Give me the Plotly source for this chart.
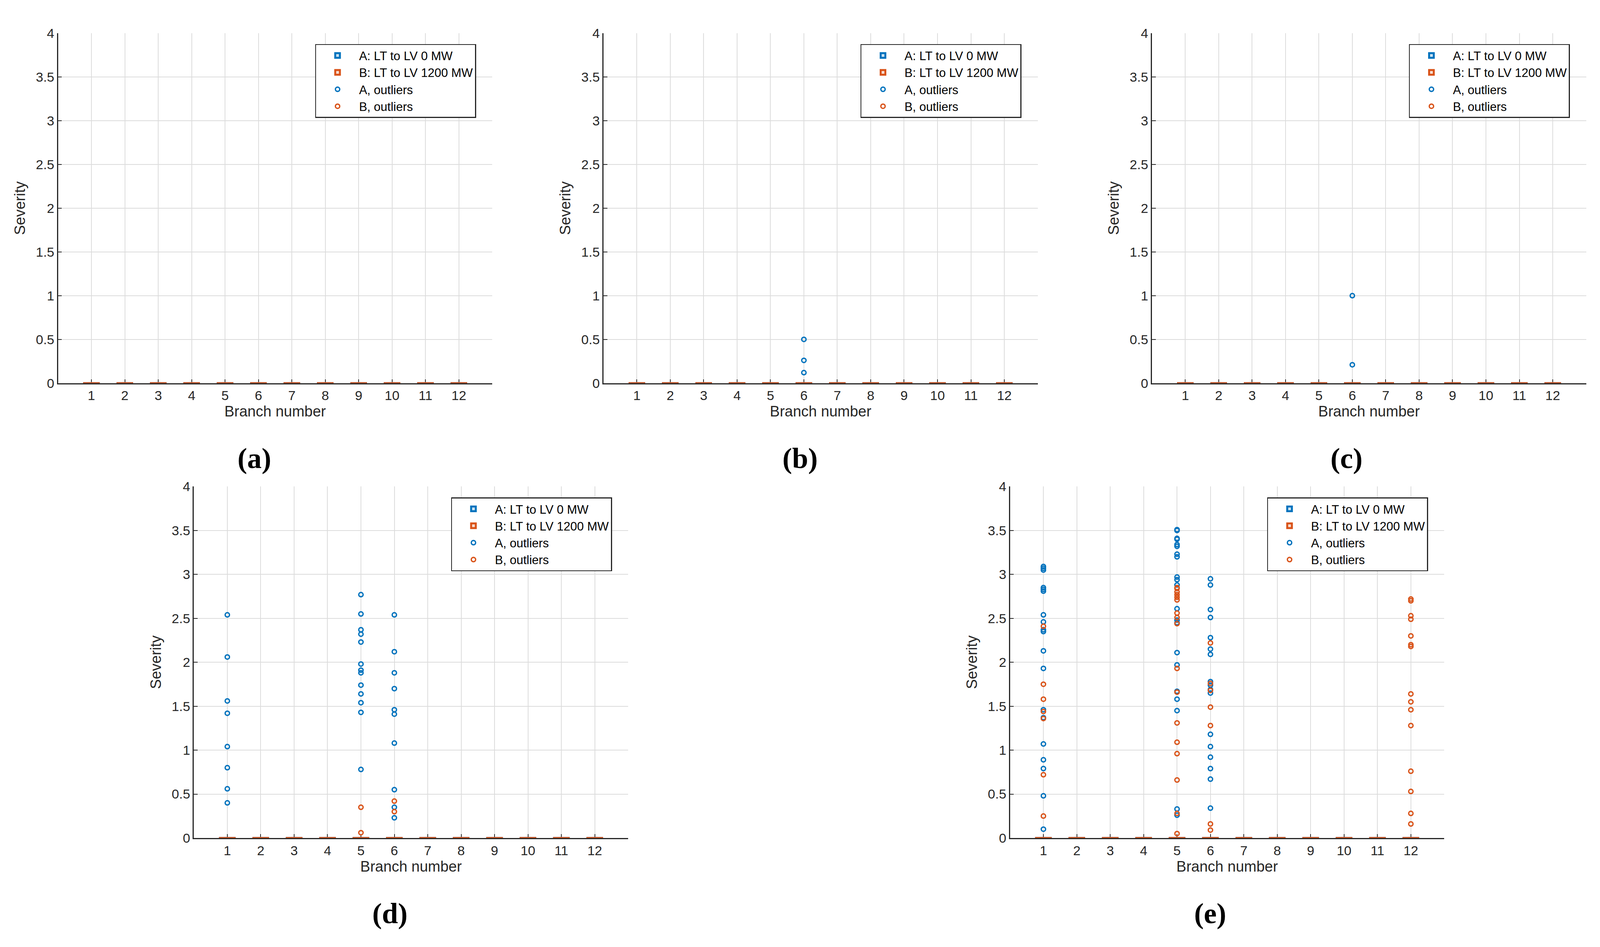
import plotly.graph_objects as go

# branch numbers on the x axis
branches = [1, 2, 3, 4, 5, 6, 7, 8, 9, 10, 11, 12]
branch_labels = ["1", "2", "3", "4", "5", "6", "7", "8", "9", "10", "11", "12"]
sev_ticks = [0, 0.5, 1, 1.5, 2, 2.5, 3, 3.5, 4]
sev_labels = ["0", "0.5", "1", "1.5", "2", "2.5", "3", "3.5", "4"]

# box statistics per branch (all boxes collapse to zero)
A_q1 = [0, 0, 0, 0, 0, 0, 0, 0, 0, 0, 0, 0]
A_median = [0, 0, 0, 0, 0, 0, 0, 0, 0, 0, 0, 0]
A_q3 = [0, 0, 0, 0, 0, 0, 0, 0, 0, 0, 0, 0]
B_q1 = [0, 0, 0, 0, 0, 0, 0, 0, 0, 0, 0, 0]
B_median = [0, 0, 0, 0, 0, 0, 0, 0, 0, 0, 0, 0]
B_q3 = [0, 0, 0, 0, 0, 0, 0, 0, 0, 0, 0, 0]

# outliers, keyed by branch number
a_A_out = {}
a_B_out = {}
b_A_out = {6: [0.50, 0.26, 0.12]}
b_B_out = {}
c_A_out = {6: [1.00, 0.21]}
c_B_out = {}
d_A_out = {
    1: [2.54, 2.06, 1.56, 1.42, 1.04, 0.80, 0.56, 0.40],
    5: [2.77, 2.55, 2.37, 2.32, 2.23, 1.98, 1.91, 1.88, 1.74, 1.64, 1.54, 1.43, 0.78],
    6: [2.54, 2.12, 1.88, 1.70, 1.46, 1.41, 1.08, 0.55, 0.35, 0.23],
}
d_B_out = {5: [0.35, 0.06], 6: [0.42, 0.30]}
e_A_out = {
    1: [3.09, 3.07, 3.05, 2.85, 2.83, 2.81, 2.54, 2.46, 2.37, 2.35, 2.13, 1.93,
        1.46, 1.37, 1.07, 0.89, 0.79, 0.48, 0.10],
    5: [3.51, 3.50, 3.41, 3.40, 3.34, 3.32, 3.23, 3.20, 2.97, 2.94, 2.88, 2.61,
        2.48, 2.45, 2.11, 1.97, 1.67, 1.58, 1.45, 0.33, 0.26],
    6: [2.95, 2.88, 2.60, 2.51, 2.28, 2.15, 2.09, 1.78, 1.74, 1.69, 1.65, 1.18,
        1.04, 0.92, 0.79, 0.67, 0.34],
}
e_B_out = {
    1: [2.41, 1.75, 1.58, 1.44, 1.36, 0.72, 0.25],
    5: [2.85, 2.84, 2.80, 2.77, 2.74, 2.71, 2.56, 2.51, 2.44, 1.93, 1.66, 1.31,
        1.09, 0.96, 0.66, 0.28, 0.05],
    6: [2.22, 1.76, 1.68, 1.49, 1.28, 0.16, 0.09],
    12: [2.72, 2.70, 2.53, 2.49, 2.30, 2.20, 2.18, 1.64, 1.55, 1.46, 1.28, 0.76,
         0.53, 0.28, 0.16],
}

BLUE = "#0072BD"
ORANGE = "#D95319"
INK = "#262626"
FONT = "Liberation Sans"

# layout is measured on a 4274 x 2424 sheet; the page itself is 4096 px wide
REF_W, REF_H = 4274, 2424
PAGE_W, PAGE_H = 4096, 2424
BODY = 8  # default page margin around the plot div
FIG_W, FIG_H = PAGE_W - 2 * BODY, PAGE_H - 2 * BODY - 4


def fx(x):
    return (x * PAGE_W / REF_W - BODY) / FIG_W


def fy(y):
    return 1 - (y - BODY) / FIG_H


# panel: tag, outliers A, outliers B, axis box (left, right, top, bottom), label centre (x, y)
panels = [
    ("(a)", a_A_out, a_B_out, (155, 1315, 67, 977), (679, 1172)),
    ("(b)", b_A_out, b_B_out, (1612, 2772, 67, 977), (2137, 1172)),
    ("(c)", c_A_out, c_B_out, (3077, 4237, 67, 977), (3597, 1172)),
    ("(d)", d_A_out, d_B_out, (518, 1678, 1246, 2160), (1041, 2356)),
    ("(e)", e_A_out, e_B_out, (2698, 3858, 1246, 2160), (3233, 2356)),
]


def flatten(out):
    xs = [b for b, vals in out.items() for v in vals]
    ys = [v for b, vals in out.items() for v in vals]
    if not xs:
        # keep the (empty) series visible so it still gets a legend entry
        return [None], [None]
    return xs, ys


fig = go.Figure()
layout = dict(
    width=FIG_W, height=FIG_H, margin=dict(l=0, r=0, t=0, b=0),
    paper_bgcolor="white", plot_bgcolor="white",
    boxmode="overlay", showlegend=True, annotations=[],
)

for i, (tag, A_out, B_out, (l, r, t, b), (lx, ly)) in enumerate(panels):
    s = "" if i == 0 else str(i + 1)
    leg = "legend" + s
    common = dict(xaxis="x" + s, yaxis="y" + s, legend=leg, hoverinfo="skip")

    fig.add_trace(go.Box(
        x=branches, q1=A_q1, median=A_median, q3=A_q3,
        lowerfence=A_q1, upperfence=A_q3, width=0.5, boxpoints=False,
        fillcolor="rgba(0,114,189,0.2)", line=dict(color=BLUE, width=5),
        name="A: LT to LV 0 MW", **common))
    fig.add_trace(go.Box(
        x=branches, q1=B_q1, median=B_median, q3=B_q3,
        lowerfence=B_q1, upperfence=B_q3, width=0.5, boxpoints=False,
        fillcolor="rgba(217,83,25,0.2)", line=dict(color=ORANGE, width=5),
        name="B: LT to LV 1200 MW", **common))
    ax, ay = flatten(A_out)
    fig.add_trace(go.Scatter(
        x=ax, y=ay, mode="markers", name="A, outliers",
        marker=dict(symbol="circle-open", size=11, color=BLUE, line=dict(width=3.5)),
        **common))
    bx, by = flatten(B_out)
    fig.add_trace(go.Scatter(
        x=bx, y=by, mode="markers", name="B, outliers",
        marker=dict(symbol="circle-open", size=11, color=ORANGE, line=dict(width=3.5)),
        **common))

    axis_style = dict(
        showgrid=True, gridcolor="#dcdcdc", gridwidth=2,
        showline=True, linecolor=INK, linewidth=2.5, zeroline=False,
        ticks="inside", ticklen=10, tickwidth=2, tickcolor=INK,
        tickfont=dict(family=FONT, size=34, color=INK),
        layer="below traces",
    )
    layout["xaxis" + s] = dict(
        domain=[fx(l), fx(r)], anchor="y" + s, range=[0, 13],
        tickvals=branches, ticktext=branch_labels,
        title=dict(text="Branch number", standoff=10,
                   font=dict(family=FONT, size=38, color=INK)),
        **axis_style)
    layout["yaxis" + s] = dict(
        domain=[fy(b), fy(t)], anchor="x" + s, range=[0, 4],
        tickvals=sev_ticks, ticktext=sev_labels,
        title=dict(text="Severity", standoff=16,
                   font=dict(family=FONT, size=38, color=INK)),
        **axis_style)
    layout[leg] = dict(
        x=fx(l + 0.592 * (r - l)), y=fy(t + 0.031 * (b - t)),
        xanchor="left", yanchor="top",
        bgcolor="white", bordercolor=INK, borderwidth=2.5,
        font=dict(family=FONT, size=31, color="black"),
        traceorder="normal", itemwidth=100, tracegroupgap=0,
    )
    layout["annotations"].append(dict(
        text="<b>" + tag + "</b>", x=fx(lx), y=fy(ly),
        xref="paper", yref="paper", showarrow=False,
        xanchor="center", yanchor="middle",
        font=dict(family="Liberation Serif", size=74, color="black"),
    ))

fig.update_layout(**layout)
fig.write_html("out.html")
